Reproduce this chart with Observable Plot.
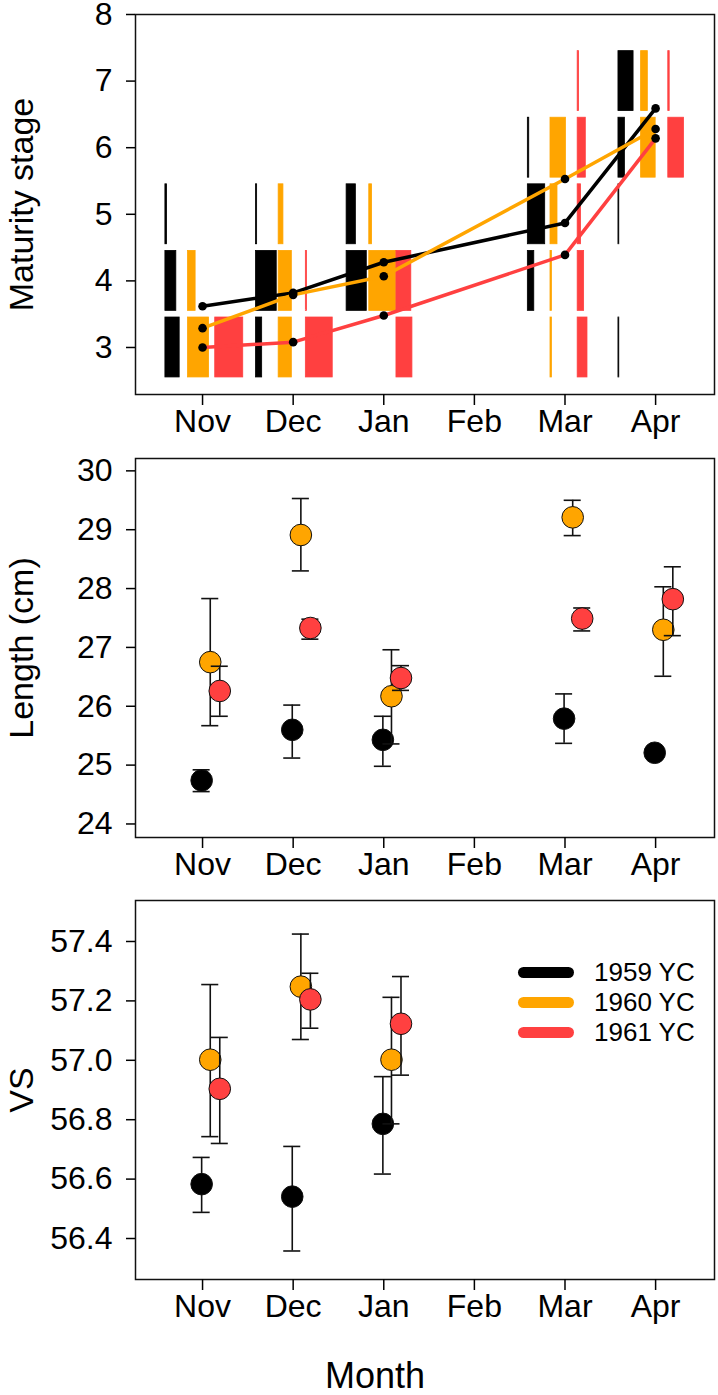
<!DOCTYPE html>
<html>
<head>
<meta charset="utf-8">
<script src="https://cdn.jsdelivr.net/npm/d3@7"></script>
<script src="https://cdn.jsdelivr.net/npm/@observablehq/plot@0.6"></script>
<style>
  body { margin: 0; background: #fff; }
  #wrap { position: relative; width: 718px; height: 1395px; font-family: "Liberation Sans", Arial, sans-serif; color: #000; }
  #wrap > svg { position: absolute; left: 0; }
  .legend { position: absolute; left: 518px; top: 957px; font-size: 26px; }
  .legend .row { height: 30px; display: flex; align-items: center; }
  .legend .sw { display: inline-block; width: 56px; height: 11px; border-radius: 6px; margin-right: 20px; }
</style>
</head>
<body>
<div id="wrap"></div>
<script>
// ---------------- data ----------------
const monthLabels = ["Nov", "Dec", "Jan", "Feb", "Mar", "Apr"];
const monthTicks = [1, 2, 3, 4, 5, 6];
const cohorts = ["1959 YC", "1960 YC", "1961 YC"];
const cohortColors = ["#000000", "#FFA500", "#FF4040"];

// Panel 1: maturity stage
const maturityMonths = [1, 2, 3, 5, 6];          // Nov, Dec, Jan, Mar, Apr
const stages = [3, 4, 5, 6, 7];
// proportion of fish at stage 3..7, one row per sampled month
const prop1959 = [[0.51, 0.39, 0.06, 0, 0], [0.22, 0.74, 0.04, 0, 0], [0, 0.72, 0.33, 0, 0], [0, 0.23, 0.62, 0.05, 0], [0.03, 0, 0.03, 0.23, 0.54]];
const prop1960 = [[0.75, 0.27, 0, 0, 0], [0.47, 0.47, 0.17, 0, 0], [0, 0.96, 0.10, 0, 0], [0.05, 0.05, 0.25, 0.55, 0], [0, 0, 0, 0.52, 0.24]];
const prop1961 = [[1.00, 0, 0, 0, 0], [0.96, 0.04, 0, 0, 0], [0.57, 0.53, 0, 0, 0], [0.35, 0.23, 0.12, 0.29, 0.05], [0, 0, 0, 0.56, 0.05]];
const meanStage1959 = [3.62, 3.82, 4.28, 4.87, 6.59];
const meanStage1960 = [3.29, 3.79, 4.07, 5.53, 6.28];
const meanStage1961 = [3.00, 3.08, 3.48, 4.39, 6.14];

// Panel 2: length (cm)
const lengthMonths = [1, 2, 3, 5, 6];
const length1959 = [24.74, 25.60, 25.43, 25.79, 25.21];
const lengthLo1959 = [24.55, 25.12, 24.98, 25.37, 25.13];
const lengthHi1959 = [24.92, 26.02, 25.83, 26.21, 25.29];
const length1960 = [26.75, 28.91, 26.17, 29.21, 27.30];
const lengthLo1960 = [25.67, 28.30, 25.36, 28.90, 26.51];
const lengthHi1960 = [27.83, 29.53, 26.96, 29.50, 28.03];
const length1961 = [26.26, 27.33, 26.48, 27.49, 27.82];
const lengthLo1961 = [25.83, 27.14, 26.27, 27.28, 27.20];
const lengthHi1961 = [26.68, 27.48, 26.69, 27.67, 28.37];

// Panel 3: VS
const vsMonths = [1, 2, 3];
const vs1959 = [56.583, 56.541, 56.786];
const vsLo1959 = [56.488, 56.358, 56.617];
const vsHi1959 = [56.673, 56.710, 56.945];
const vs1960 = [57.002, 57.248, 57.002];
const vsLo1960 = [56.743, 57.070, 56.786];
const vsHi1960 = [57.255, 57.425, 57.212];
const vs1961 = [56.904, 57.205, 57.123];
const vsLo1961 = [56.720, 57.108, 56.950];
const vsHi1961 = [57.077, 57.293, 57.282];

const stageTicks = [3, 4, 5, 6, 7, 8];
const lengthTicks = [24, 25, 26, 27, 28, 29, 30];
const vsTicks = [56.4, 56.6, 56.8, 57.0, 57.2, 57.4];

// ---------------- layout / style ----------------
const FONT = "'Liberation Sans', Arial, sans-serif";
const xDomain = [0.26, 6.65];
const barOffsets = [-0.41, -0.16, 0.14];
const barUnit = 0.309;
const barHalf = 0.45;
const pointOffsets = [-0.01, 0.085, 0.19];
const capHalf = 0.094;

const wrap = document.getElementById("wrap");

function commonMarks(yTicks, yFmt, title, titleSize) {
  return [
    Plot.frame({stroke: "#111", strokeWidth: 1.5}),
    Plot.axisX({ticks: monthTicks, tickFormat: d => monthLabels[d - 1], tickSize: 11, tickPadding: 4,
                label: null, fontSize: 32, strokeWidth: 1.5}),
    Plot.axisY({ticks: yTicks, tickFormat: yFmt, tickSize: 9, tickPadding: 14,
                label: null, fontSize: 32, strokeWidth: 1.5}),
    Plot.text([title], {frameAnchor: "left", dx: -103, rotate: -90, textAnchor: "middle", lineAnchor: "bottom",
                        fontSize: titleSize, fill: "black"})
  ];
}

function place(svg, top) {
  svg.style.top = top + "px";
  wrap.appendChild(svg);
}

// ---------- Panel 1 ----------
const props = [prop1959, prop1960, prop1961];
const meansStage = [meanStage1959, meanStage1960, meanStage1961];
const bars = [];
props.forEach((tbl, ci) => tbl.forEach((row, mi) => row.forEach((p, si) => {
  if (p > 0) bars.push({cohort: cohorts[ci], ci, month: maturityMonths[mi], stage: stages[si], p});
})));
const stageMeans = [];
meansStage.forEach((arr, ci) => arr.forEach((v, mi) => stageMeans.push({cohort: cohorts[ci], month: maturityMonths[mi], value: v})));

const p1 = Plot.plot({
  width: 718, height: 440,
  marginLeft: 135, marginRight: 4, marginTop: 14, marginBottom: 46,
  style: {fontFamily: FONT, color: "black", background: "transparent", overflow: "visible"},
  x: {domain: xDomain},
  y: {domain: [2.294, 8]},
  color: {domain: cohorts, range: cohortColors},
  marks: [
    Plot.rect(bars, {
      x1: d => d.month + barOffsets[d.ci],
      x2: d => d.month + barOffsets[d.ci] + d.p * barUnit,
      y1: d => d.stage - barHalf, y2: d => d.stage + barHalf,
      fill: "cohort", stroke: "cohort", strokeWidth: 0.8
    }),
    Plot.line(stageMeans, {x: "month", y: "value", z: "cohort", stroke: "cohort", strokeWidth: 3.5}),
    Plot.dot(stageMeans, {x: "month", y: "value", r: 4.3, fill: "black"}),
    ...commonMarks(stageTicks, d => String(d), "Maturity stage", 34)
  ]
});
place(p1, 0);

// ---------- error-bar panels ----------
function errMarks(months, vals, los, his) {
  const marks = [];
  vals.forEach((arr, ci) => {
    const data = arr.map((v, mi) => ({cohort: cohorts[ci], x: months[mi] + pointOffsets[ci], value: v, lo: los[ci][mi], hi: his[ci][mi]}));
    marks.push(
      Plot.ruleX(data, {x: "x", y1: "lo", y2: "hi", stroke: "#111", strokeWidth: 1.6}),
      Plot.ruleY(data, {y: "hi", x1: d => d.x - capHalf, x2: d => d.x + capHalf, stroke: "#111", strokeWidth: 1.6}),
      Plot.ruleY(data, {y: "lo", x1: d => d.x - capHalf, x2: d => d.x + capHalf, stroke: "#111", strokeWidth: 1.6}),
      Plot.dot(data, {x: "x", y: "value", r: 10.8, fill: cohortColors[ci], stroke: "#111", strokeWidth: 1})
    );
  });
  return marks;
}

const p2 = Plot.plot({
  width: 718, height: 440,
  marginLeft: 135, marginRight: 4, marginTop: 18, marginBottom: 43,
  style: {fontFamily: FONT, color: "black", background: "transparent", overflow: "visible"},
  x: {domain: xDomain},
  y: {domain: [23.77, 30.21]},
  marks: [
    ...errMarks(lengthMonths, [length1959, length1960, length1961],
                [lengthLo1959, lengthLo1960, lengthLo1961], [lengthHi1959, lengthHi1960, lengthHi1961]),
    ...commonMarks(lengthTicks, d => String(d), "Length (cm)", 34)
  ]
});
place(p2, 440);

const p3 = Plot.plot({
  width: 718, height: 515,
  marginLeft: 135, marginRight: 4, marginTop: 20, marginBottom: 116,
  style: {fontFamily: FONT, color: "black", background: "transparent", overflow: "visible"},
  x: {domain: xDomain},
  y: {domain: [56.262, 57.538]},
  marks: [
    ...errMarks(vsMonths, [vs1959, vs1960, vs1961],
                [vsLo1959, vsLo1960, vsLo1961], [vsHi1959, vsHi1960, vsHi1961]),
    ...commonMarks(vsTicks, d => d.toFixed(1), "VS", 34),
    Plot.text(["Month"], {frameAnchor: "bottom", dx: -50, dy: 108, lineAnchor: "bottom", fontSize: 36, fill: "black"})
  ]
});
place(p3, 880);

// legend
const leg = document.createElement("div");
leg.className = "legend";
cohorts.forEach((c, i) => {
  const row = document.createElement("div");
  row.className = "row";
  const sw = document.createElement("span");
  sw.className = "sw";
  sw.style.background = cohortColors[i];
  row.appendChild(sw);
  row.appendChild(document.createTextNode(c));
  leg.appendChild(row);
});
wrap.appendChild(leg);
</script>
</body>
</html>
